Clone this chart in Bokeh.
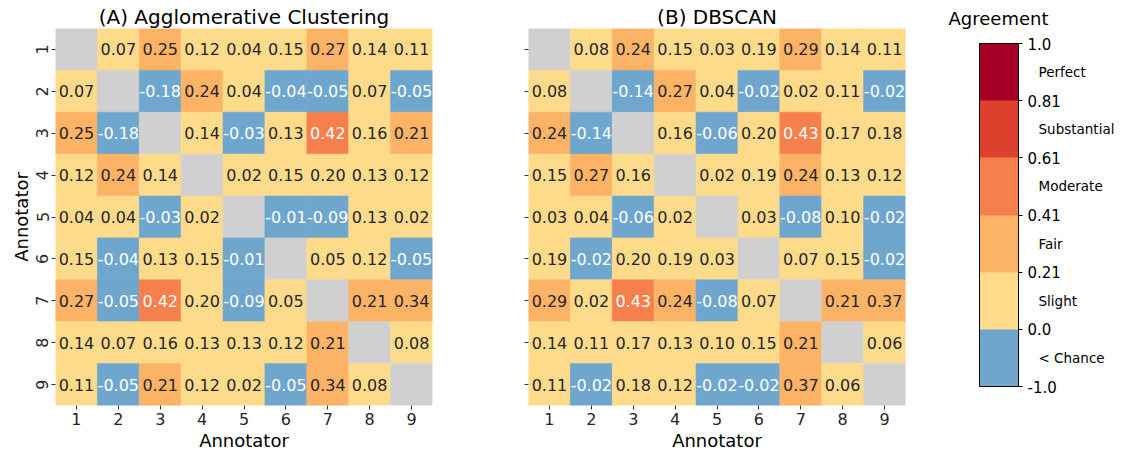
import numpy as np
from bokeh.plotting import figure
from bokeh.layouts import row
from bokeh.models import (ColumnDataSource, FixedTicker, CustomJSTickFormatter,
                          LinearColorMapper, ColorBar)
from bokeh.core.properties import value
from bokeh.embed import file_html
from bokeh.resources import INLINE

# ---------------------------------------------------------------- data
annotators = ["1", "2", "3", "4", "5", "6", "7", "8", "9"]

# pairwise agreement, NaN on the diagonal
agglomerative = [
    [np.nan, 0.07, 0.25, 0.12, 0.04, 0.15, 0.27, 0.14, 0.11],
    [0.07, np.nan, -0.18, 0.24, 0.04, -0.04, -0.05, 0.07, -0.05],
    [0.25, -0.18, np.nan, 0.14, -0.03, 0.13, 0.42, 0.16, 0.21],
    [0.12, 0.24, 0.14, np.nan, 0.02, 0.15, 0.20, 0.13, 0.12],
    [0.04, 0.04, -0.03, 0.02, np.nan, -0.01, -0.09, 0.13, 0.02],
    [0.15, -0.04, 0.13, 0.15, -0.01, np.nan, 0.05, 0.12, -0.05],
    [0.27, -0.05, 0.42, 0.20, -0.09, 0.05, np.nan, 0.21, 0.34],
    [0.14, 0.07, 0.16, 0.13, 0.13, 0.12, 0.21, np.nan, 0.08],
    [0.11, -0.05, 0.21, 0.12, 0.02, -0.05, 0.34, 0.08, np.nan],
]

dbscan = [
    [np.nan, 0.08, 0.24, 0.15, 0.03, 0.19, 0.29, 0.14, 0.11],
    [0.08, np.nan, -0.14, 0.27, 0.04, -0.02, 0.02, 0.11, -0.02],
    [0.24, -0.14, np.nan, 0.16, -0.06, 0.20, 0.43, 0.17, 0.18],
    [0.15, 0.27, 0.16, np.nan, 0.02, 0.19, 0.24, 0.13, 0.12],
    [0.03, 0.04, -0.06, 0.02, np.nan, 0.03, -0.08, 0.10, -0.02],
    [0.19, -0.02, 0.20, 0.19, 0.03, np.nan, 0.07, 0.15, -0.02],
    [0.29, 0.02, 0.43, 0.24, -0.08, 0.07, np.nan, 0.21, 0.37],
    [0.14, 0.11, 0.17, 0.13, 0.10, 0.15, 0.21, np.nan, 0.06],
    [0.11, -0.02, 0.18, 0.12, -0.02, -0.02, 0.37, 0.06, np.nan],
]

# agreement bands (Landis & Koch style)
band_edges = [-1.0, 0.0, 0.21, 0.41, 0.61, 0.81, 1.0]
edge_labels = ["-1.0", "0.0", "0.21", "0.41", "0.61", "0.81", "1.0"]
band_names = ["< Chance", "Slight", "Fair", "Moderate", "Substantial", "Perfect"]
band_colors = ["#6fa6cd", "#fedb8b", "#fdb366", "#f6804d", "#de402e", "#a50026"]
band_text = ["white", "#262626", "#262626", "white", "white", "white"]
diag_color = "#d0d0d0"

FONT = "DejaVu Sans"
TXT = "#262626"
TOP, BOTTOM = 28, 50


def heat_source(matrix):
    m = np.array(matrix, dtype=float)
    xs, ys, fills, labels, tcolors = [], [], [], [], []
    for i in range(m.shape[0]):
        for j in range(m.shape[1]):
            v = m[i, j]
            xs.append(j + 1)
            ys.append(i + 1)
            if np.isnan(v):
                fills.append(diag_color)
                labels.append("")
                tcolors.append(TXT)
            else:
                k = int(np.clip(np.digitize(v, band_edges[1:-1]), 0, len(band_colors) - 1))
                fills.append(band_colors[k])
                labels.append(f"{v:.2f}")
                tcolors.append(band_text[k])
    return ColumnDataSource(dict(x=xs, y=ys, fill=fills, label=labels, tcolor=tcolors))


def heatmap(matrix, title, width, left, right, show_ylabels):
    n = len(annotators)
    p = figure(width=width, height=455, output_backend="svg", toolbar_location=None,
               x_range=(0.5, n + 0.5), y_range=(n + 0.5, 0.5),
               min_border_left=left, min_border_right=right,
               min_border_top=TOP, min_border_bottom=BOTTOM, title=title)
    p.title.text_font = FONT
    p.title.text_font_size = "20px"
    p.title.text_font_style = "normal"
    p.title.text_color = "black"
    p.title.align = "center"
    p.title.standoff = 0
    p.title.offset = 0
    p.outline_line_color = None
    p.grid.visible = False
    p.background_fill_color = "white"

    src = heat_source(matrix)
    p.rect("x", "y", width=1, height=1, source=src, fill_color="fill",
           line_color="fill", line_width=0.6)
    p.text("x", "y", text="label", source=src, text_color="tcolor",
           text_align="center", text_baseline="middle",
           text_font=value(FONT), text_font_size="16px")

    ticks = list(range(1, n + 1))
    fmt = CustomJSTickFormatter(args=dict(labels=annotators),
                                code="return labels[Math.round(tick) - 1];")
    for ax in (p.xaxis[0], p.yaxis[0]):
        ax.ticker = FixedTicker(ticks=ticks)
        ax.formatter = fmt
        ax.axis_line_color = None
        ax.major_tick_in = 0
        ax.major_tick_out = 4
        ax.major_tick_line_color = "#333333"
        ax.minor_tick_line_color = None
        ax.major_label_text_font = FONT
        ax.major_label_text_font_size = "16px"
        ax.major_label_text_color = TXT
        ax.major_label_standoff = 3
        ax.axis_label_text_font = FONT
        ax.axis_label_text_font_size = "18px"
        ax.axis_label_text_font_style = "normal"
        ax.axis_label_text_color = "black"
        ax.axis_label_standoff = 2
    p.xaxis.axis_label = "Annotator"
    p.yaxis.major_label_orientation = "vertical"
    if show_ylabels:
        p.yaxis.axis_label = "Annotator"
    else:
        p.yaxis.major_label_text_color = None
    return p


pA = heatmap(agglomerative, "(A) Agglomerative Clustering", 478, 55, 46, True)
pB = heatmap(dbscan, "(B) DBSCAN", 437, 50, 10, False)

# ---------------------------------------------------------------- colour key
pC = figure(width=206, height=455, output_backend="svg", toolbar_location=None,
            x_range=(0, 1), y_range=(0, 1), min_border_left=0, min_border_right=0,
            min_border_top=TOP, min_border_bottom=BOTTOM,
            x_axis_location=None, y_axis_location=None, title="Agreement")
pC.outline_line_color = None
pC.grid.visible = False
pC.title.text_font = FONT
pC.title.text_font_size = "18px"
pC.title.text_font_style = "normal"
pC.title.text_color = "black"
pC.title.align = "left"
pC.title.offset = 33
pC.title.standoff = 0

bar_bottom = 455 - 386 - BOTTOM        # from the bottom of the frame
nb = len(band_colors)
mapper = LinearColorMapper(palette=band_colors, low=0, high=nb)

edge_bar = ColorBar(
    color_mapper=mapper, orientation="vertical", location=(64, bar_bottom),
    width=39, height=343, padding=0, margin=0,
    ticker=FixedTicker(ticks=list(range(nb + 1))),
    formatter=CustomJSTickFormatter(args=dict(labels=edge_labels),
                                    code="return labels[Math.round(tick)];"),
    major_tick_in=0, major_tick_out=4, major_tick_line_color="black",
    minor_tick_line_color=None, bar_line_color="black", bar_line_width=1,
    label_standoff=5, major_label_text_font=FONT, major_label_text_font_size="15px",
    major_label_text_color="black", background_fill_color=None, border_line_color=None)

name_bar = ColorBar(
    color_mapper=mapper, orientation="vertical", location=(64, bar_bottom),
    width=39, height=343, padding=0, margin=0, scale_alpha=0,
    ticker=FixedTicker(ticks=[k + 0.5 for k in range(nb)]),
    formatter=CustomJSTickFormatter(args=dict(labels=band_names),
                                    code="return labels[Math.floor(tick)];"),
    major_tick_in=0, major_tick_out=0, major_tick_line_color=None,
    minor_tick_line_color=None, bar_line_color=None,
    label_standoff=20, major_label_text_font=FONT, major_label_text_font_size="13.5px",
    major_label_text_color="black", background_fill_color=None, border_line_color=None)

pC.add_layout(edge_bar, "center")
pC.add_layout(name_bar, "center")

layout = row(pA, pB, pC, spacing=0)
open("out.html", "w").write(file_html(layout, INLINE))
